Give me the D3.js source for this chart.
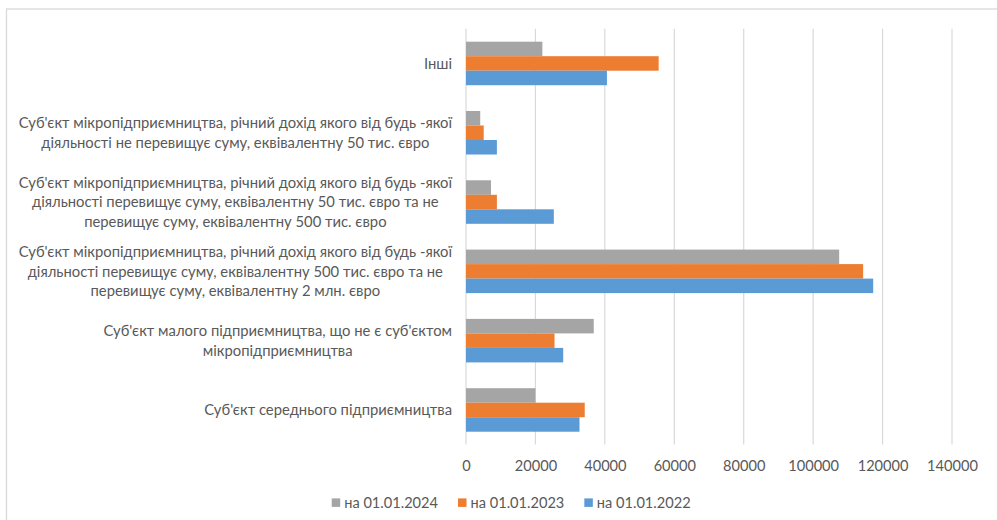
<!DOCTYPE html>
<html>
<head>
<meta charset="utf-8">
<script src="https://cdn.jsdelivr.net/npm/d3@7"></script>
<style>
  html, body { margin: 0; padding: 0; background: #fff; }
  svg { display: block; }
  text { font-family: Lato, "Open Sans", sans-serif; fill: #595959; }
</style>
</head>
<body>
<svg id="chart" width="997" height="520"></svg>
<script>
// ---- data ----
const categories = [
  "Інші",
  "Суб'єкт мікропідприємництва, річний дохід якого від будь -якої|діяльності не перевищує суму, еквівалентну 50 тис. євро",
  "Суб'єкт мікропідприємництва, річний дохід якого від будь -якої|діяльності перевищує суму, еквівалентну 50 тис. євро та не|перевищує суму, еквівалентну 500 тис. євро",
  "Суб'єкт мікропідприємництва, річний дохід якого від будь -якої|діяльності перевищує суму, еквівалентну 500 тис. євро та не|перевищує суму, еквівалентну 2 млн. євро",
  "Суб'єкт малого підприємництва, що не є суб'єктом|мікропідприємництва",
  "Суб'єкт середнього підприємництва"
];
const seriesNames = ["на 01.01.2024", "на 01.01.2023", "на 01.01.2022"];
const values2024 = [22000, 4100, 7200, 107500, 36800, 20000];
const values2023 = [55500, 5100, 8900, 114400, 25500, 34200];
const values2022 = [40600, 8900, 25300, 117300, 28000, 32700];
const seriesValues = [values2024, values2023, values2022];
const seriesColors = ["#A5A5A5", "#ED7D31", "#5B9BD5"];
const xTicks = [0, 20000, 40000, 60000, 80000, 100000, 120000, 140000];

// ---- layout ----
const svg = d3.select("#chart");
const plotLeft = 466, plotRight = 952, plotTop = 28.8, plotBottom = 444.6;

svg.append("rect")
  .attr("x", 6.5).attr("y", 9)
  .attr("width", 1100).attr("height", 600)
  .attr("fill", "none").attr("stroke", "#D9D9D9").attr("stroke-width", 1.3);

const x = d3.scaleLinear().domain([0, 140000]).range([plotLeft, plotRight]);
const y = d3.scaleBand().domain(d3.range(categories.length))
  .range([plotTop, plotBottom]).paddingInner(0.372).paddingOuter(0.186);
const yInner = d3.scaleBand().domain(d3.range(seriesNames.length))
  .range([0, y.bandwidth()]);

// gridlines
svg.append("g").selectAll("line").data(xTicks).join("line")
  .attr("x1", d => x(d)).attr("x2", d => x(d))
  .attr("y1", plotTop).attr("y2", plotBottom)
  .attr("stroke", "#D9D9D9").attr("stroke-width", 1.2);

// bars
const groups = svg.append("g").selectAll("g").data(categories).join("g")
  .attr("transform", (d, i) => `translate(0,${y(i)})`);
groups.selectAll("rect")
  .data((d, i) => seriesValues.map((vals, s) => ({ s, v: vals[i] })))
  .join("rect")
  .attr("x", x(0))
  .attr("y", d => yInner(d.s))
  .attr("width", d => x(d.v) - x(0))
  .attr("height", yInner.bandwidth())
  .attr("fill", d => seriesColors[d.s]);

// x axis tick labels
const xAxis = d3.axisBottom(x).tickValues(xTicks).tickSize(0).tickPadding(0).tickFormat(d3.format("d"));
const gx = svg.append("g").attr("transform", `translate(0,${plotBottom})`).call(xAxis);
gx.select(".domain").remove();
gx.selectAll("text")
  .attr("y", 21).attr("dy", "0.35em")
  .style("font-family", "Lato, sans-serif").style("font-size", "14.6px").attr("fill", "#595959");

// category labels
const labelRight = 452, lineH = 19.5;
const lab = svg.append("g").style("font-size", "14.8px");
categories.forEach((c, i) => {
  const lines = c.split("|");
  const cy = y(i) + y.bandwidth() / 2;
  const t = lab.append("text").attr("text-anchor", "middle");
  lines.forEach((ln, k) => {
    t.append("tspan").text(ln)
      .attr("y", cy + (k - (lines.length - 1) / 2) * lineH)
      .attr("dy", "0.35em");
  });
  let maxW = 0;
  t.selectAll("tspan").each(function () { maxW = Math.max(maxW, this.getComputedTextLength()); });
  t.selectAll("tspan").attr("x", labelRight - maxW / 2);
});

// legend
const legend = svg.append("g").style("font-size", "14.6px");
let lx = 331.7;
const ly = 502.7;
seriesNames.forEach((n, s) => {
  legend.append("rect").attr("x", lx).attr("y", ly - 4.3).attr("width", 8.5).attr("height", 8.5)
    .attr("fill", seriesColors[s]);
  const t = legend.append("text").attr("x", lx + 12.5).attr("y", ly).attr("dy", "0.35em").text(n);
  lx += 12.5 + t.node().getComputedTextLength() + 20;
});
</script>
</body>
</html>
